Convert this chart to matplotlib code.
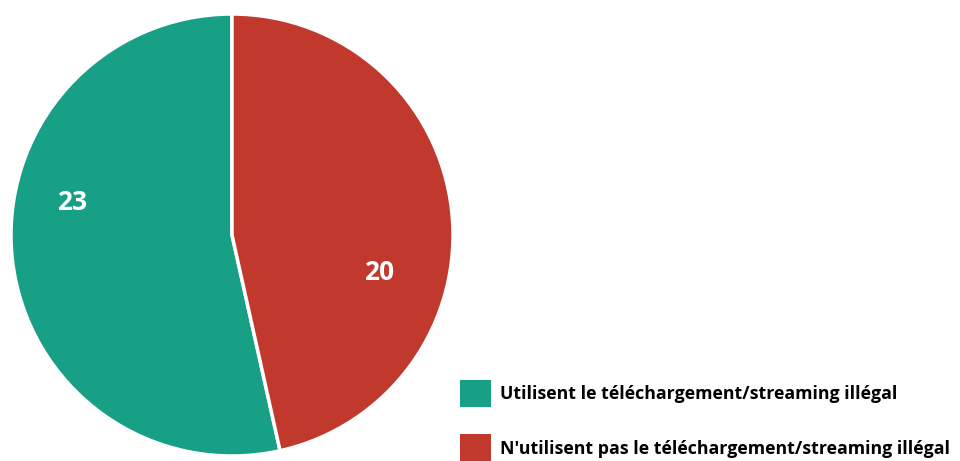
import matplotlib
matplotlib.use("Agg")
from matplotlib import pyplot as plt
from matplotlib.patches import Patch

labels = ["Utilisent le téléchargement/streaming illégal",
          "N'utilisent pas le téléchargement/streaming illégal"]
values = [23, 20]
colors = ["#17A086", "#C0392C"]

plt.rcParams['font.family'] = ['Open Sans', 'DejaVu Sans']

fig = plt.figure(figsize=(9.6, 4.61), dpi=100)
# pie centre at (232, 235) px, radius 221 px
ax = fig.add_axes([11 / 960, (461 - 456) / 461, 442 / 960, 442 / 461])
ax.pie(values, colors=colors, startangle=90, counterclock=True,
       wedgeprops=dict(edgecolor="white", linewidth=2.5))
ax.set_xlim(-1, 1)
ax.set_ylim(-1, 1)
ax.set_aspect("equal")
ax.axis("off")

# value labels
label_pos = [(-0.725, 0.145), (0.665, -0.17)]
for (x, y), v in zip(label_pos, values):
    ax.text(x, y, str(v), color="white", fontsize=19, fontweight="bold",
            ha="center", va="center")

handles = [Patch(facecolor=c, edgecolor="none") for c in colors]
fig.legend(handles, labels, loc="upper left", bbox_to_anchor=(444 / 960, 1 - 364 / 461),
           frameon=False, prop=dict(weight="bold", size=12.8),
           handlelength=1.75, handleheight=2.0, handletextpad=0.5, labelspacing=1.52)

fig.savefig("out.png", dpi=100)
